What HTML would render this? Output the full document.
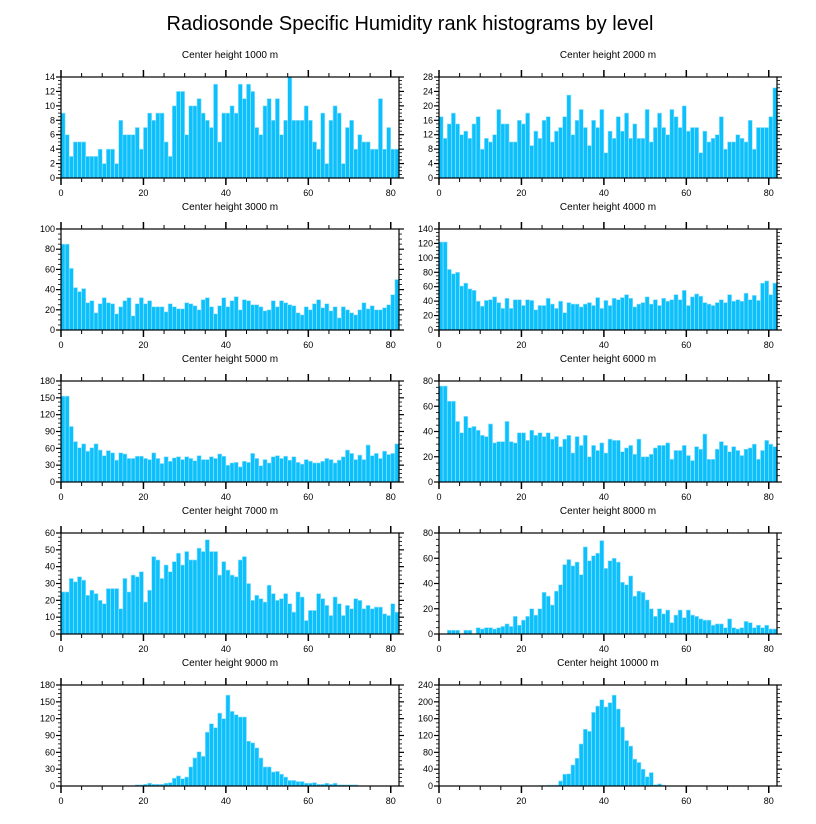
<!DOCTYPE html>
<html><head><meta charset="utf-8">
<style>
html,body{margin:0;padding:0;background:#fff;}
svg{display:block;font-family:"Liberation Sans",sans-serif;}
</style></head>
<body>
<svg id="chart" width="816" height="824" viewBox="0 0 816 824">
<text x="410" y="30" text-anchor="middle" font-size="20">Radiosonde Specific Humidity rank histograms by level</text>
</svg>
<script>
const panelTitles = ["Center height 1000 m","Center height 2000 m","Center height 3000 m","Center height 4000 m","Center height 5000 m","Center height 6000 m","Center height 7000 m","Center height 8000 m","Center height 9000 m","Center height 10000 m"];
const yMaxes = [14,28,100,140,180,80,60,80,180,240];
const ySteps = [2,4,20,20,30,20,10,20,30,40];
const xTicks = [0,20,40,60,80];
const s1000 = [9,6,3,5,5,5,3,3,3,4,2,4,4,2,8,6,6,6,7,4,7,9,8,9,9,5,3,10,12,12,6,10,10,11,9,8,7,13,5,9,9,10,9,13,11,13,12,7,6,10,11,8,11,6,8,14,8,8,8,10,8,5,4,9,2,8,10,9,2,7,8,4,6,5,5,4,4,11,4,7,4,4];
const s2000 = [17,11,15,18,15,12,13,11,15,17,8,11,10,12,19,15,15,10,10,16,15,18,9,13,11,16,17,10,13,14,17,23,12,16,19,14,9,16,14,19,7,13,11,17,13,18,11,15,11,11,19,10,14,18,14,12,19,17,14,20,13,14,14,7,13,10,11,12,17,8,10,10,12,11,10,16,8,14,14,14,17,25];
const s3000 = [85,85,61,42,38,41,27,29,17,26,32,27,26,16,23,29,32,14,26,32,26,29,23,23,23,18,26,23,21,21,27,26,24,20,30,32,23,16,24,32,23,29,33,20,30,29,25,25,23,19,20,29,23,29,27,25,24,17,15,23,20,26,30,22,26,19,23,12,23,20,17,15,20,27,21,24,20,20,22,25,35,50];
const s4000 = [122,122,84,78,80,61,65,57,55,40,33,41,42,46,38,30,44,30,42,42,34,42,41,28,34,34,44,36,30,40,24,38,36,36,32,36,38,34,45,30,41,34,44,42,45,49,44,32,36,38,46,36,42,34,44,40,42,49,42,55,34,46,50,47,38,36,34,38,42,38,49,40,42,40,51,42,48,41,65,68,49,65];
const s5000 = [153,153,99,72,61,68,55,61,68,57,47,56,52,39,52,50,42,42,46,46,42,40,52,42,33,45,37,43,45,40,45,42,38,47,40,40,45,42,50,46,30,34,35,27,37,35,51,42,29,40,34,45,47,42,46,39,45,35,32,40,37,34,34,37,42,40,34,39,45,57,51,40,48,40,66,47,51,42,55,49,51,68];
const s6000 = [76,76,64,64,48,39,52,43,44,41,37,36,46,31,32,32,48,32,31,39,39,33,41,37,39,36,39,34,36,28,34,37,23,36,29,37,20,29,25,31,23,34,33,33,24,27,29,22,34,20,20,22,27,29,29,31,18,25,25,29,21,17,28,26,38,18,18,26,32,29,24,28,25,21,26,27,30,18,25,33,30,28];
const s7000 = [25,25,33,31,34,32,23,26,24,20,18,27,27,27,15,33,25,35,34,37,19,26,46,44,33,41,37,43,48,41,49,44,44,51,49,56,49,49,35,43,38,35,34,44,46,30,20,23,21,19,29,24,20,21,24,18,13,25,22,8,14,14,24,21,17,11,22,18,11,17,15,21,20,15,17,15,16,16,12,11,18,13];
const s8000 = [0,0,3,3,3,0,3,3,0,5,4,5,5,4,5,6,8,6,14,7,11,14,20,15,20,33,30,23,34,39,55,59,54,57,47,69,58,62,64,74,52,58,60,57,41,39,46,30,34,33,27,20,14,20,16,19,9,15,19,13,19,15,14,12,11,11,7,8,8,5,12,5,4,5,10,9,5,7,5,7,4,4];
const s9000 = [0,0,0,0,0,0,0,0,0,0,0,0,0,0,0,0,0,0,2,2,3,5,3,3,3,5,6,14,18,13,16,34,50,61,53,96,111,104,130,120,162,133,127,123,123,80,77,68,50,34,34,25,26,21,16,10,10,8,8,5,5,6,3,3,5,3,5,2,2,2,2,2,0,0,0,0,0,0,0,0,0,0];
const s10000 = [0,0,0,0,0,0,0,0,0,0,0,0,0,0,0,0,0,0,0,0,0,0,0,0,1,1,2,2,2,12,28,29,50,66,100,135,130,175,190,205,188,198,216,183,140,108,95,64,56,40,22,32,3,5,2,0,0,0,0,0,1,0,0,0,0,0,0,0,0,0,0,0,0,0,0,0,0,0,0,0,0,0];
const seriesList = [s1000,s2000,s3000,s4000,s5000,s6000,s7000,s8000,s9000,s10000];

const NS = "http://www.w3.org/2000/svg";
const svg = document.getElementById('chart');
function mk(tag, attrs, parent){const e=document.createElementNS(NS,tag);for(const k in attrs)e.setAttribute(k,attrs[k]);parent.appendChild(e);return e;}
const PW=338, PH=101, X0=[61,439], Y0=[77,229,381,533,685], XMAX=82;
seriesList.forEach((vals,p)=>{
  const left=X0[p%2], top=Y0[Math.floor(p/2)], bottom=top+PH;
  const g=mk('g',{},svg);
  
  
  const xs=v=>left+v/XMAX*PW;
  const ys=v=>bottom-v/yMaxes[p]*PH;
  const t=mk('text',{x:left+PW/2,y:top-19,'text-anchor':'middle','font-size':'10'},g);
  t.textContent=panelTitles[p];
  
  
  vals.forEach((v,i)=>{
    if(v<=0)return;
    const r=mk('rect',{x:xs(i),y:ys(v),width:xs(i+1)-xs(i),height:bottom-ys(v),fill:'#0cc0fc',stroke:'#9fe4ff','stroke-width':'0.6'},g);
    
    
  });
  const fr=mk('rect',{x:left,y:top,width:PW,height:PH,fill:'none',stroke:'#000','stroke-width':'1.2'},g);
  
  
  // x ticks
  for(let v=0;v<=XMAX;v+=5){
    const major=v%20===0, L=major?7:4, x=xs(v);
    mk('line',{x1:x,x2:x,y1:bottom,y2:bottom+L,stroke:'#000','stroke-width':major?1.5:1},g);
    mk('line',{x1:x,x2:x,y1:top,y2:top-L,stroke:'#000','stroke-width':major?1.5:1},g);
  }
  xTicks.forEach(v=>{
    const tx=mk('text',{x:xs(v),y:bottom+18,'text-anchor':'middle','font-size':'9'},g);
    tx.textContent=v;
    
    
  });
  // y ticks
  const st=ySteps[p];
  for(let v=0;v<=yMaxes[p]+1e-9;v+=st/4){
    const major=Math.abs(v/st-Math.round(v/st))<1e-6, L=major?5:3, y=ys(v);
    mk('line',{x1:left,x2:left-L,y1:y,y2:y,stroke:'#000','stroke-width':major?1.2:0.8},g);
    mk('line',{x1:left+PW,x2:left+PW+L,y1:y,y2:y,stroke:'#000','stroke-width':major?1.2:0.8},g);
  }
  for(let v=0;v<=yMaxes[p];v+=st){
    const ty=mk('text',{x:left-6,y:ys(v)+3,'text-anchor':'end','font-size':'9'},g);
    ty.textContent=v;
    
    
  }
});
</script>
</body></html>
